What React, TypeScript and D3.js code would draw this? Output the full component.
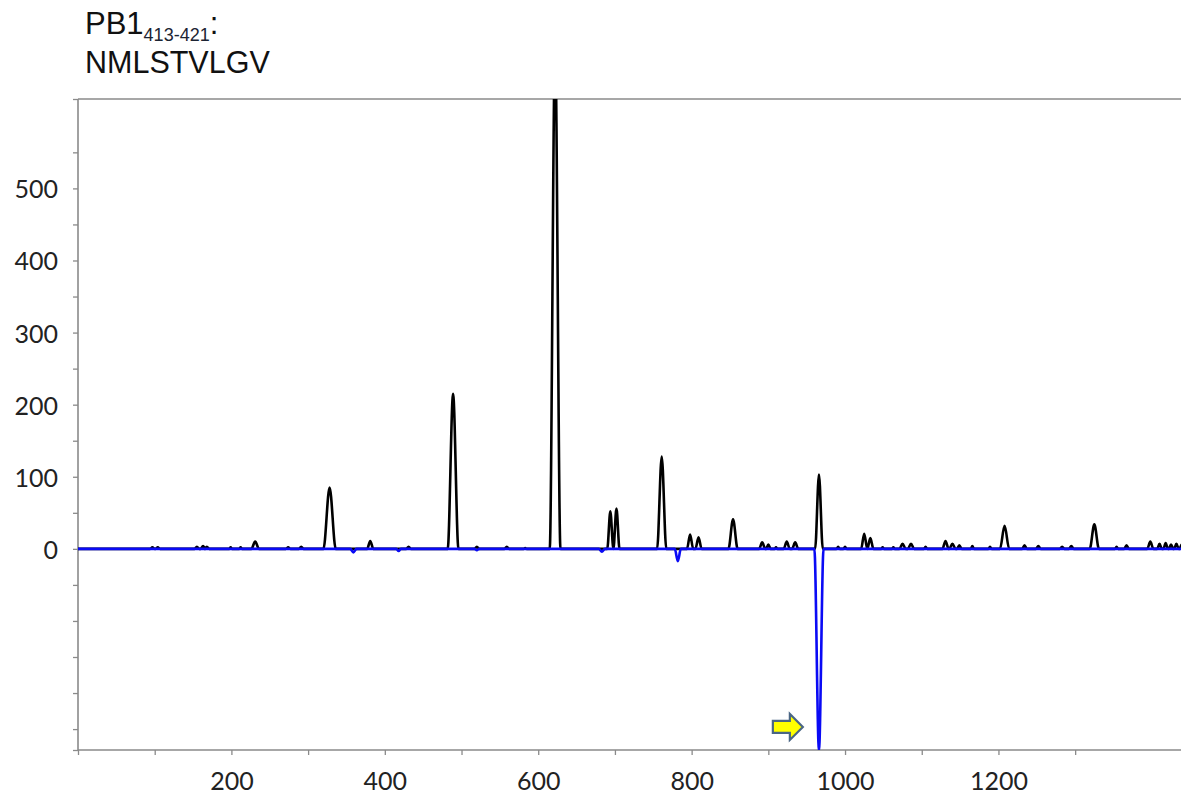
import type React from "react"
import { useRef, useEffect } from "react"
import * as d3 from "d3"

// peaks: position, height, half width at the base
const blackPeakX = [97, 104, 155, 163, 168, 199, 212, 231, 274, 291, 328, 381, 431, 489, 520, 559, 583, 622, 694, 702, 761, 798, 809, 854, 892, 900, 910, 924, 935, 966, 991, 1000, 1025, 1033, 1049, 1063, 1075, 1086, 1105, 1131, 1140, 1149, 1166, 1189, 1208, 1234, 1252, 1283, 1295, 1325, 1354, 1367, 1398, 1410, 1418, 1425, 1432, 1439]
const blackPeakY = [2, 2, 3, 4, 3, 2, 2, 10, 2, 3, 85, 11, 3, 215, 3, 3, 1, 700, 52, 56, 128, 20, 16, 41, 9, 6, 2, 10, 9, 103, 3, 3, 21, 15, 2, 2, 7, 7, 3, 11, 7, 5, 4, 3, 32, 5, 4, 3, 4, 34, 3, 5, 10, 7, 8, 6, 7, 6]
const blackPeakW = [3, 3, 3, 3, 3, 2, 2, 5, 3, 3, 8, 4, 3, 7, 3, 3, 2, 7, 4, 4, 6, 4, 4, 6, 4, 3, 2, 4, 4, 5, 2, 2, 4, 4, 2, 2, 4, 4, 2, 4, 4, 3, 2, 2, 6, 3, 3, 3, 3, 6, 2, 3, 4, 3, 3, 3, 3, 3]

const bluePeakX = [359, 418, 520, 683, 782, 966]
const bluePeakY = [-5, -3, -2, -4, -17, -280]
const bluePeakW = [4, 3, 3, 4, 4, 6]

const xTickValues = [0, 100, 200, 300, 400, 500, 600, 700, 800, 900, 1000, 1100, 1200, 1300]
const xLabelValues = [200, 400, 600, 800, 1000, 1200]
const yTickValues = [-250, -200, -150, -100, -50, 0, 50, 100, 150, 200, 250, 300, 350, 400, 450, 500, 550]
const yLabelValues = [0, 100, 200, 300, 400, 500]

const X_MAX = 1438
const Y_MIN = -279
const Y_MAX = 624

// arrow annotation (tip position in data units)
const arrowTipX = 945
const arrowY = -247

const W = 1181
const H = 794

const tracePoints = (xs: number[], ys: number[], ws: number[]): [number, number][] => {
  const pts: [number, number][] = [[0, 0]]
  xs.forEach((x, i) => {
    pts.push([x - ws[i], 0], [x, ys[i]], [x + ws[i], 0])
  })
  pts.push([X_MAX + 10, 0])
  return pts
}

const App: React.FC = () => {
  const svgRef = useRef<SVGSVGElement>(null)

  useEffect(() => {
    if (!svgRef.current) return
    const svg = d3.select(svgRef.current)
    svg.selectAll("*").remove()

    const left = 78
    const top = 99
    const bottom = 750

    const x = d3.scaleLinear().domain([0, X_MAX]).range([left, W])
    const y = d3.scaleLinear().domain([Y_MIN, Y_MAX]).range([bottom, top])

    svg.append("rect").attr("width", W).attr("height", H).attr("fill", "#fff")

    // title
    const title = svg
      .append("text")
      .attr("x", 85)
      .attr("y", 34)
      .attr("font-family", "'Liberation Sans', Arial, sans-serif")
      .attr("font-size", 31)
      .attr("fill", "#111")
    title.append("tspan").text("PB1")
    title.append("tspan").attr("font-size", 18).attr("dy", 7).attr("fill", "#1c2433").text("413-421")
    title.append("tspan").attr("dy", -7).text(":")
    svg
      .append("text")
      .attr("x", 85)
      .attr("y", 73)
      .attr("font-family", "'Liberation Sans', Arial, sans-serif")
      .attr("font-size", 30.5)
      .attr("fill", "#111")
      .text("NMLSTVLGV")

    svg
      .append("defs")
      .append("clipPath")
      .attr("id", "plot-clip")
      .append("rect")
      .attr("x", left)
      .attr("y", top)
      .attr("width", W - left)
      .attr("height", bottom - top)

    const axisColor = "#8a8a8a"
    const labelFont = "Lato, 'Open Sans', sans-serif"

    // y axis
    const yAxis = svg
      .append("g")
      .attr("transform", `translate(${left},0)`)
      .call(
        d3
          .axisLeft(y)
          .tickValues([Y_MIN, ...yTickValues, Y_MAX])
          .tickSize(5)
          .tickPadding(15)
          .tickFormat((d: any) => (yLabelValues.includes(d) ? String(d) : ""))
      )
    yAxis.select(".domain").remove()
    yAxis.selectAll(".tick line").attr("stroke", axisColor).attr("stroke-width", 1.3)
    yAxis
      .selectAll(".tick text")
      .attr("font-family", labelFont)
      .attr("font-size", 25)
      .attr("fill", "#222")
      .attr("dy", "0.38em")

    // x axis
    const xAxis = svg
      .append("g")
      .attr("transform", `translate(0,${bottom})`)
      .call(
        d3
          .axisBottom(x)
          .tickValues(xTickValues)
          .tickSize(5)
          .tickPadding(17)
          .tickFormat((d: any) => (xLabelValues.includes(d) ? String(d) : ""))
      )
    xAxis.select(".domain").remove()
    xAxis.selectAll(".tick line").attr("stroke", axisColor).attr("stroke-width", 1.3)
    xAxis
      .selectAll(".tick text")
      .attr("font-family", labelFont)
      .attr("font-size", 25)
      .attr("fill", "#222")

    // frame
    const frame = svg.append("g").attr("stroke", axisColor).attr("stroke-width", 1.6)
    frame.append("line").attr("x1", left).attr("x2", W).attr("y1", top).attr("y2", top)
    frame.append("line").attr("x1", left).attr("x2", left).attr("y1", top).attr("y2", bottom)
    frame.append("line").attr("x1", left).attr("x2", W).attr("y1", bottom).attr("y2", bottom)

    const line = d3
      .line<[number, number]>()
      .x((d) => x(d[0]))
      .y((d) => y(d[1]))
      .curve(d3.curveMonotoneX)

    const plot = svg.append("g").attr("clip-path", "url(#plot-clip)")

    plot
      .append("path")
      .datum(tracePoints(blackPeakX, blackPeakY, blackPeakW))
      .attr("fill", "none")
      .attr("stroke", "#000")
      .attr("stroke-width", 2.6)
      .attr("stroke-linejoin", "round")
      .attr("d", line)

    plot
      .append("path")
      .datum(tracePoints(bluePeakX, bluePeakY, bluePeakW))
      .attr("fill", "none")
      .attr("stroke", "#0a0af5")
      .attr("stroke-width", 2.6)
      .attr("stroke-linejoin", "round")
      .attr("d", line)

    // arrow pointing at the blue dip
    const tx = x(arrowTipX)
    const cy = y(arrowY)
    const arrow: [number, number][] = [
      [tx - 30, cy - 6],
      [tx - 13, cy - 6],
      [tx - 13, cy - 13],
      [tx, cy],
      [tx - 13, cy + 13],
      [tx - 13, cy + 6],
      [tx - 30, cy + 6],
    ]
    svg
      .append("polygon")
      .attr("points", arrow.map((p) => p.join(",")).join(" "))
      .attr("fill", "#ffff00")
      .attr("stroke", "#4a6685")
      .attr("stroke-width", 2.2)
      .attr("stroke-linejoin", "miter")
  }, [])

  return (
    <div style={{ position: "absolute", left: 0, top: 0 }}>
      <svg ref={svgRef} width={W} height={H} style={{ display: "block" }}></svg>
    </div>
  )
}

export default App
